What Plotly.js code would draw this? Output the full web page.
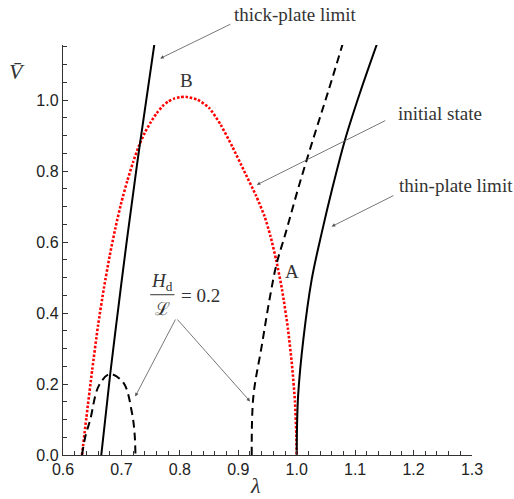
<!DOCTYPE html>
<html>
<head>
<meta charset="utf-8">
<script src="https://cdn.plot.ly/plotly-3.0.1.min.js"></script>
<style>html,body{margin:0;padding:0;background:#fff}#chart{width:514px;height:499px}</style>
</head>
<body>
<div id="chart"></div>
<script>
// Initial state (red dotted)
const initLambda = [0.6325, 0.64, 0.65, 0.66, 0.67, 0.68, 0.69, 0.70, 0.71, 0.72, 0.73, 0.74, 0.75, 0.76, 0.77, 0.78, 0.79, 0.80, 0.81,
                    0.83, 0.85, 0.87, 0.89, 0.91, 0.93, 0.945, 0.955, 0.965, 0.975, 0.985, 0.992, 0.997, 0.9993, 1.0];
const initV      = [0.0, 0.105, 0.24, 0.365, 0.47, 0.562, 0.642, 0.712, 0.772, 0.825, 0.871, 0.908, 0.937, 0.962, 0.982, 0.996, 1.004, 1.008, 1.009,
                    1.001, 0.978, 0.930, 0.868, 0.800, 0.732, 0.672, 0.617, 0.548, 0.465, 0.355, 0.252, 0.15, 0.06, 0.0];
// Thick-plate limit (solid)
const thickLambda = [0.6655, 0.681, 0.695, 0.7094, 0.731, 0.7566];
const thickV      = [0.0, 0.231, 0.419, 0.606, 0.869, 1.16];
// Thin-plate limit (solid)
const thinLambda = [1.0, 1.0004, 1.0025, 1.0113, 1.0256, 1.0427, 1.06, 1.0826, 1.108, 1.1378];
const thinV      = [0.0, 0.07, 0.17, 0.325, 0.494, 0.625, 0.745, 0.8875, 1.019, 1.16];
// H_d/L = 0.2, small lobe (dashed)
const lobeLambda = [0.6325, 0.638, 0.6467, 0.661, 0.68, 0.7036, 0.718, 0.7225, 0.724];
const lobeV      = [0.0, 0.05, 0.1, 0.194, 0.228, 0.203, 0.119, 0.06, 0.0];
// H_d/L = 0.2, main branch (dashed)
const branchLambda = [0.923, 0.9258, 0.940, 0.9544, 0.9658, 0.981, 1.005, 1.031, 1.055, 1.079];
const branchV      = [0.0, 0.165, 0.306, 0.447, 0.54, 0.625, 0.765, 0.905, 1.03, 1.16];

const xTickVals = [0.6, 0.7, 0.8, 0.9, 1.0, 1.1, 1.2, 1.3];
const xTickText = ['0.6', '0.7', '0.8', '0.9', '1.0', '1.1', '1.2', '1.3'];
const yTickVals = [0.0, 0.2, 0.4, 0.6, 0.8, 1.0];
const yTickText = ['0.0', '0.2', '0.4', '0.6', '0.8', '1.0'];

const traces = [
  {x: initLambda, y: initV, mode: 'lines', line: {color: '#ff0000', width: 2.6, dash: '2.5px,1.8px', shape: 'spline', smoothing: 0.6}},
  {x: lobeLambda, y: lobeV, mode: 'lines', line: {color: '#000', width: 2, dash: '8px,5px', shape: 'spline'}},
  {x: branchLambda, y: branchV, mode: 'lines', line: {color: '#000', width: 2, dash: '8px,5px', shape: 'spline'}},
  {x: thickLambda, y: thickV, mode: 'lines', line: {color: '#000', width: 2, shape: 'spline'}},
  {x: thinLambda, y: thinV, mode: 'lines', line: {color: '#000', width: 2, shape: 'spline'}}
];

const serifFam = 'Liberation Serif, DejaVu Serif, serif';
const serif = {family: serifFam, size: 19, color: '#333'};
const arrowBase = {showarrow: true, arrowhead: 2, arrowsize: 0.9, arrowwidth: 0.8, arrowcolor: '#555', text: '', axref: 'pixel', ayref: 'pixel'};

const annotations = [
  {xref: 'paper', yref: 'paper', x: 0.5696, y: 1.0755, xanchor: 'center', yanchor: 'middle', text: 'thick-plate limit', showarrow: false, font: serif},
  {x: 0.8108, y: 1.056, text: 'B', showarrow: false, font: serif},
  {x: 1.245, y: 0.963, text: 'initial state', showarrow: false, font: serif},
  {x: 1.1715, y: 0.758, xanchor: 'left', text: 'thin-plate limit', showarrow: false, font: serif},
  {x: 0.992, y: 0.516, text: 'A', showarrow: false, font: serif},
  // fraction H_d / L = 0.2
  {x: 0.7692, y: 0.486, text: '<i>H</i><sub>d</sub>', showarrow: false, font: serif},
  {x: 0.7697, y: 0.414, text: 'ℒ', showarrow: false, font: {family: 'DejaVu Serif, serif', size: 18, color: '#333'}},
  {x: 0.8356, y: 0.4487, text: '= 0.2', showarrow: false, font: serif},
  // arrows
  Object.assign({x: 0.7663, y: 1.117, ax: 71.7, ay: -35}, arrowBase),
  Object.assign({x: 0.9316, y: 0.761, ax: 130, ay: -65}, arrowBase),
  Object.assign({x: 1.0598, y: 0.6436, ax: 63.3, ay: -31.7}, arrowBase),
  Object.assign({x: 0.7236, y: 0.165, ax: 41, ay: -78.4}, arrowBase),
  Object.assign({x: 0.9202, y: 0.151, ax: -74, ay: -83.4}, arrowBase),
  // axis titles
  {xref: 'paper', yref: 'paper', x: -0.112, y: 0.935, xanchor: 'center', yanchor: 'middle', text: '<i>V̄</i>', showarrow: false, font: {family: serifFam, size: 22, color: '#333'}},
  {xref: 'paper', yref: 'paper', x: 0.47, y: -0.074, xanchor: 'center', yanchor: 'middle', text: '<i>λ</i>', showarrow: false, font: {family: serifFam, size: 22, color: '#333'}}
];

const shapes = [
  {type: 'line', xref: 'x', yref: 'y', x0: 0.7492, x1: 0.7908, y0: 0.4515, y1: 0.4515, line: {color: '#333', width: 1}}
];

const layout = {
  width: 514, height: 499,
  margin: {l: 63, r: 42, t: 45, b: 44},
  paper_bgcolor: '#fff', plot_bgcolor: '#fff',
  showlegend: false,
  font: {family: 'Liberation Sans, Arial, sans-serif', size: 16, color: '#222'},
  xaxis: {
    range: [0.6, 1.3], showgrid: false, zeroline: false,
    showline: true, linecolor: '#333', linewidth: 1.2, mirror: false,
    ticks: 'inside', ticklen: 5, tickwidth: 1, tickcolor: '#333',
    tickmode: 'array', tickvals: xTickVals, ticktext: xTickText,
    minor: {dtick: 0.02, tick0: 0.6, ticks: 'inside', ticklen: 4, tickcolor: '#333', showgrid: false},
    tickfont: {size: 16, color: '#222'}
  },
  yaxis: {
    range: [0, 1.155], showgrid: false, zeroline: false,
    showline: true, linecolor: '#333', linewidth: 1.2, mirror: false,
    ticks: 'inside', ticklen: 5, tickwidth: 1, tickcolor: '#333',
    tickmode: 'array', tickvals: yTickVals, ticktext: yTickText,
    minor: {dtick: 0.05, tick0: 0, ticks: 'inside', ticklen: 4, tickcolor: '#333', showgrid: false},
    tickfont: {size: 16, color: '#222'}
  },
  annotations: annotations,
  shapes: shapes
};

Plotly.newPlot('chart', traces, layout, {displayModeBar: false, staticPlot: true});
</script>
</body>
</html>
